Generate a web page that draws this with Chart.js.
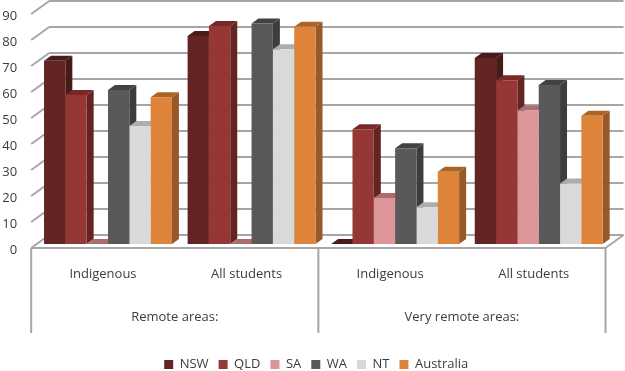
<!DOCTYPE html>
<html>
<head>
<meta charset="utf-8">
<style>
  html, body { margin: 0; padding: 0; background: #fff; }
  canvas { display: block; }
</style>
<script src="https://cdn.jsdelivr.net/npm/chart.js@4/dist/chart.umd.js"></script>
</head>
<body>
<canvas id="c" width="625" height="371"></canvas>
<script>
const categories = ['Indigenous', 'All students', 'Indigenous', 'All students'];
const areas = ['Remote areas:', 'Very remote areas:'];

const nsw = [70.5, 80, 0, 71.5];
const qld = [57.3, 83.8, 44.1, 63];
const sa = [0, 0, 17.7, 51.3];
const wa = [59.2, 84.8, 36.8, 61.2];
const nt = [45.4, 74.9, 14.1, 23.3];
const australia = [56.4, 83.6, 27.8, 49.3];

// front, side, top
const shades = {
  NSW: ['#632523', '#481a18', '#4a1b19'],
  QLD: ['#953735', '#642422', '#77292a'],
  SA: ['#dc9599', '#a86f71', '#ac6c70'],
  WA: ['#595959', '#3d3d3d', '#424242'],
  NT: ['#d9d9d9', '#a9a9a9', '#adadad'],
  Australia: ['#dd833a', '#98592a', '#ab6426']
};

const textColor = '#3c3c3c';
const gridColor = '#a6a6a6';
const fontFamily = '"Open Sans", sans-serif';

// how far the bars, the back wall and the front edge sit from each other
const barDepth = { x: 7, y: 5 };
const wallOffset = 9;
const frontOffset = { x: 5, y: 4 };
const wallDepth = { x: 18, y: 13 };
const legendShift = 11;

function line(ctx, x1, y1, x2, y2) {
  ctx.beginPath();
  ctx.moveTo(x1, y1);
  ctx.lineTo(x2, y2);
  ctx.stroke();
}

const box3d = {
  id: 'box3d',
  afterLayout(chart) {
    chart.legend.left += legendShift;
    chart.legend.right += legendShift;
  },
  beforeDatasetsDraw(chart) {
    const ctx = chart.ctx;
    const y = chart.scales.y;
    const x = chart.scales.x;
    const frontL = x.left - frontOffset.x;
    const frontR = x.right - frontOffset.x;
    const backL = frontL + wallDepth.x;
    const backR = frontR + wallDepth.x;

    ctx.save();
    ctx.strokeStyle = gridColor;
    ctx.lineWidth = 2;
    y.ticks.forEach(t => {
      const py = y.getPixelForValue(t.value);
      line(ctx, backL, py - wallOffset, backR, py - wallOffset);
      line(ctx, frontL, py + frontOffset.y, backL, py - wallOffset);
    });

    const floorY = y.getPixelForValue(0) + frontOffset.y;
    line(ctx, frontL, floorY, frontR, floorY);
    line(ctx, frontR, floorY, backR, floorY - wallDepth.y);

    // separators of the two level axis
    const bottom = chart.scales.x2.bottom - 15;
    [frontL, (frontL + frontR) / 2, frontR].forEach(px => line(ctx, px, floorY, px, bottom));

    // sides and tops, left to right, the native fronts go over them after this
    chart.data.datasets.forEach((ds, i) => {
      const [, side, top] = shades[ds.label];
      chart.getDatasetMeta(i).data.forEach(bar => {
        const l = bar.x - bar.width / 2;
        const r = bar.x + bar.width / 2;
        ctx.fillStyle = side;
        ctx.beginPath();
        ctx.moveTo(r, bar.y);
        ctx.lineTo(r + barDepth.x, bar.y - barDepth.y);
        ctx.lineTo(r + barDepth.x, bar.base - barDepth.y);
        ctx.lineTo(r, bar.base);
        ctx.closePath();
        ctx.fill();
        ctx.fillStyle = top;
        ctx.beginPath();
        ctx.moveTo(l, bar.y);
        ctx.lineTo(l + barDepth.x, bar.y - barDepth.y);
        ctx.lineTo(r + barDepth.x, bar.y - barDepth.y);
        ctx.lineTo(r, bar.y);
        ctx.closePath();
        ctx.fill();
      });
    });
    ctx.restore();
  }
};

const series = { NSW: nsw, QLD: qld, SA: sa, WA: wa, NT: nt, Australia: australia };

new Chart('c', {
  type: 'bar',
  data: {
    labels: categories,
    datasets: Object.keys(series).map(name => ({
      label: name,
      data: series[name],
      backgroundColor: shades[name][0],
      borderWidth: 0,
      categoryPercentage: 0.891,
      barPercentage: 1
    }))
  },
  options: {
    responsive: false,
    animation: false,
    layout: { padding: { top: 10, right: 14.5, left: 0, bottom: -10 } },
    plugins: {
      tooltip: { enabled: false },
      legend: {
        position: 'bottom',
        labels: {
          boxWidth: 9,
          boxHeight: 9,
          padding: 10,
          color: textColor,
          font: { family: fontFamily, size: 13 }
        }
      }
    },
    scales: {
      y: {
        min: 0,
        max: 90,
        ticks: {
          stepSize: 10,
          padding: 19,
          labelOffset: 6,
          color: textColor,
          font: { family: fontFamily, size: 13 }
        },
        grid: { display: false, drawTicks: false },
        border: { display: false },
        afterFit(scale) {
          scale.width = 36.2;
          scale.paddingTop = 0;
          scale.paddingBottom = 0;
        }
      },
      x: {
        position: 'bottom',
        offset: true,
        ticks: {
          padding: 22,
          labelOffset: -frontOffset.x,
          maxRotation: 0,
          color: textColor,
          font: { family: fontFamily, size: 13 }
        },
        grid: { display: false, drawTicks: false },
        border: { display: false },
        afterFit(scale) { scale.height = 50; }
      },
      x2: {
        type: 'category',
        position: 'bottom',
        labels: areas,
        offset: true,
        ticks: {
          padding: 15,
          labelOffset: -frontOffset.x,
          maxRotation: 0,
          color: textColor,
          font: { family: fontFamily, size: 13 }
        },
        grid: { display: false, drawTicks: false },
        border: { display: false },
        afterFit(scale) { scale.height = 54; }
      }
    }
  },
  plugins: [box3d]
});
</script>
</body>
</html>
